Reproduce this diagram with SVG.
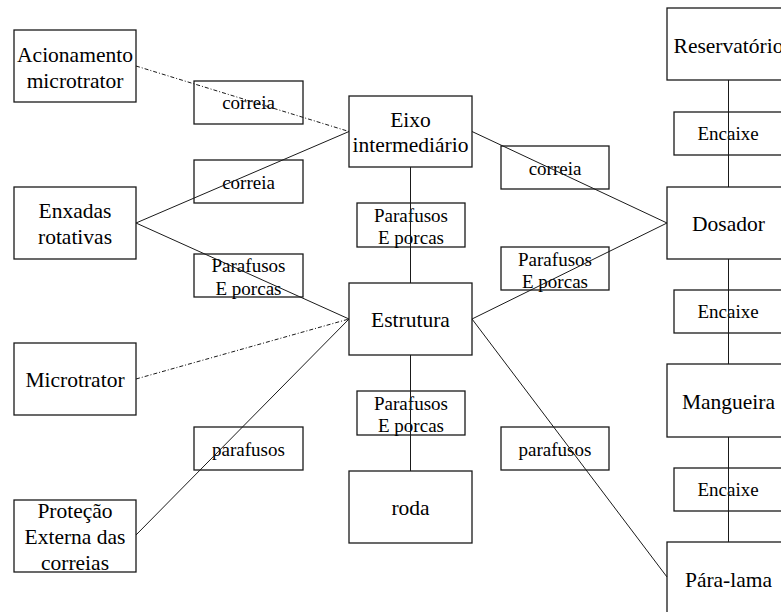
<svg xmlns="http://www.w3.org/2000/svg" width="781" height="612" viewBox="0 0 781 612">
<style>
.box{fill:#fff;stroke:#1a1a1a;stroke-width:1.3}
.lbl{fill:#fff;stroke:#1a1a1a;stroke-width:1.3}
.n{font-size:21.5px;fill:#000;text-anchor:middle}
.l{font-size:19px;fill:#000;text-anchor:middle}
.c{stroke:#1a1a1a;stroke-width:1;fill:none}
.d{stroke-dasharray:4 2 1 2}
</style>
<rect width="781" height="612" fill="#fff"/>
<g font-family="Liberation Serif, Tinos, DejaVu Serif, serif">
<g id="acionamento"><rect class="box" x="14" y="30" width="122" height="72"/><text class="n" x="75" y="62">Acionamento</text><text class="n" x="75" y="87.7">microtrator</text></g>
<g id="enxadas"><rect class="box" x="14" y="187" width="122" height="72"/><text class="n" x="75" y="218.3">Enxadas</text><text class="n" x="75" y="243.8">rotativas</text></g>
<g id="microtrator"><rect class="box" x="14" y="343" width="122" height="72"/><text class="n" x="75" y="387.3">Microtrator</text></g>
<g id="protecao"><rect class="box" x="14" y="500" width="122" height="72"/><text class="n" x="75" y="518.3">Proteção</text><text class="n" x="75" y="544.3">Externa das</text><text class="n" x="75" y="569.6">correias</text></g>
<g id="eixo"><rect class="box" x="349" y="96" width="123" height="71"/><text class="n" x="410.5" y="126.7">Eixo</text><text class="n" x="410.5" y="152.3">intermediário</text></g>
<g id="estrutura"><rect class="box" x="349" y="283" width="123" height="72"/><text class="n" x="410.5" y="326.7">Estrutura</text></g>
<g id="roda"><rect class="box" x="349" y="471" width="123" height="72"/><text class="n" x="410.5" y="515">roda</text></g>
<g id="reservatorio"><rect class="box" x="667" y="8" width="123" height="72"/><text class="n" x="728.5" y="52.7">Reservatório</text></g>
<g id="dosador"><rect class="box" x="667" y="187" width="123" height="72"/><text class="n" x="728.5" y="230.7">Dosador</text></g>
<g id="mangueira"><rect class="box" x="667" y="364" width="123" height="73"/><text class="n" x="728.5" y="409.3">Mangueira</text></g>
<g id="paralama"><rect class="box" x="667" y="542" width="123" height="74"/><text class="n" x="728.5" y="587.3">Pára-lama</text></g>
<g id="lbl-correia1"><rect class="lbl" x="194" y="81" width="109" height="43"/><text class="l" x="248.5" y="109.3">correia</text></g>
<g id="lbl-correia2"><rect class="lbl" x="194" y="160" width="109" height="43"/><text class="l" x="248.5" y="188.7">correia</text></g>
<g id="lbl-paraf-left"><rect class="lbl" x="194" y="254" width="109" height="43"/><text class="l" x="248.5" y="272.3">Parafusos</text><text class="l" x="248.5" y="294.5">E porcas</text></g>
<g id="lbl-parafusos-left"><rect class="lbl" x="194" y="427" width="109" height="43"/><text class="l" x="248.5" y="455.5">parafusos</text></g>
<g id="lbl-paraf-c1"><rect class="lbl" x="357" y="203" width="108" height="44"/><text class="l" x="411" y="221.5">Parafusos</text><text class="l" x="411" y="243.5">E porcas</text></g>
<g id="lbl-paraf-c2"><rect class="lbl" x="357" y="391" width="108" height="44"/><text class="l" x="411" y="409.5">Parafusos</text><text class="l" x="411" y="431.5">E porcas</text></g>
<g id="lbl-correia3"><rect class="lbl" x="501" y="146" width="108" height="43"/><text class="l" x="555" y="175">correia</text></g>
<g id="lbl-paraf-right"><rect class="lbl" x="501" y="247" width="108" height="43"/><text class="l" x="555" y="265.5">Parafusos</text><text class="l" x="555" y="287.5">E porcas</text></g>
<g id="lbl-parafusos-right"><rect class="lbl" x="501" y="427" width="108" height="43"/><text class="l" x="555" y="455.5">parafusos</text></g>
<g id="lbl-encaixe1"><rect class="lbl" x="674" y="112" width="108" height="43"/><text class="l" x="728" y="140">Encaixe</text></g>
<g id="lbl-encaixe2"><rect class="lbl" x="674" y="290" width="108" height="43"/><text class="l" x="728" y="318">Encaixe</text></g>
<g id="lbl-encaixe3"><rect class="lbl" x="674" y="468" width="108" height="43"/><text class="l" x="728" y="496">Encaixe</text></g>
</g>
<g id="connectors">
<line class="c d" x1="136" y1="66" x2="349" y2="131.5"/>
<line class="c" x1="136" y1="223" x2="349" y2="131.5"/>
<line class="c" x1="136" y1="223" x2="349" y2="319"/>
<line class="c d" x1="136" y1="379" x2="349" y2="319"/>
<line class="c" x1="136" y1="535" x2="349" y2="319"/>
<line class="c" x1="410.5" y1="167" x2="410.5" y2="283"/>
<line class="c" x1="410.5" y1="355" x2="410.5" y2="471"/>
<line class="c" x1="472" y1="131.5" x2="667" y2="223"/>
<line class="c" x1="472" y1="319" x2="667" y2="223"/>
<line class="c" x1="472" y1="319" x2="667" y2="577"/>
<line class="c" x1="728.5" y1="80" x2="728.5" y2="187"/>
<line class="c" x1="728.5" y1="259" x2="728.5" y2="364"/>
<line class="c" x1="728.5" y1="437" x2="728.5" y2="542"/>
</g>
</svg>
